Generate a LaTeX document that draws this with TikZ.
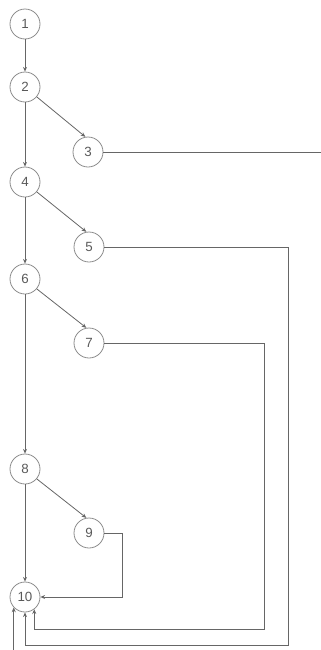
\documentclass[tikz,border=0pt]{standalone}
\usepackage{fontspec}
\setmainfont{Liberation Sans}
\usetikzlibrary{arrows.meta}
\begin{document}
\begin{tikzpicture}[x=0.75pt,y=-0.75pt,
  vtx/.style={circle,draw=black!45,line width=0.6pt,minimum size=22.5pt,inner sep=0pt,text=black!65,font=\fontsize{10}{12}\selectfont},
  conn/.style={draw=black!60,line width=0.6pt},
  arr/.style={conn,-{Stealth[length=3.5pt,width=3pt]}}]
\useasboundingbox (0,0) rectangle (321,650);
\node[vtx] (n1) at (25,24) {1};
\node[vtx] (n2) at (25,87) {2};
\node[vtx] (n3) at (88,152) {3};
\node[vtx] (n4) at (25,182) {4};
\node[vtx] (n5) at (89,247) {5};
\node[vtx] (n6) at (25,279) {6};
\node[vtx] (n7) at (89,343) {7};
\node[vtx] (n8) at (25,469) {8};
\node[vtx] (n9) at (89,533) {9};
\node[vtx] (n10) at (25,597) {10};
\coordinate (r3) at (322,152);
\coordinate (c5) at (288,645);
\coordinate (c7) at (264,629);
\coordinate (c9) at (122,597);
\coordinate (in) at (14,651);
\draw[arr] (n1) -- (n2);
\draw[arr] (n2) -- (n4);
\draw[arr] (n4) -- (n6);
\draw[arr] (n6) -- (n8);
\draw[arr] (n8) -- (n10);
\draw[arr] (n2.-40) -- (n3.100);
\draw[arr] (n4.-40) -- (n5.100);
\draw[arr] (n6.-40) -- (n7.100);
\draw[arr] (n8.-40) -- (n9.100);
\draw[conn] (n3.east) -- (r3);
\draw[arr] (n9.east) -| (c9) -- (n10.east);
\draw[arr] (n7.east) -| (c7) -| (n10.-53);
\draw[arr] (n5.east) -| (c5) -| (n10.south);
\draw[arr] (in) -- (n10.-137 |- in) -- (n10.-137);
\end{tikzpicture}
\end{document}
